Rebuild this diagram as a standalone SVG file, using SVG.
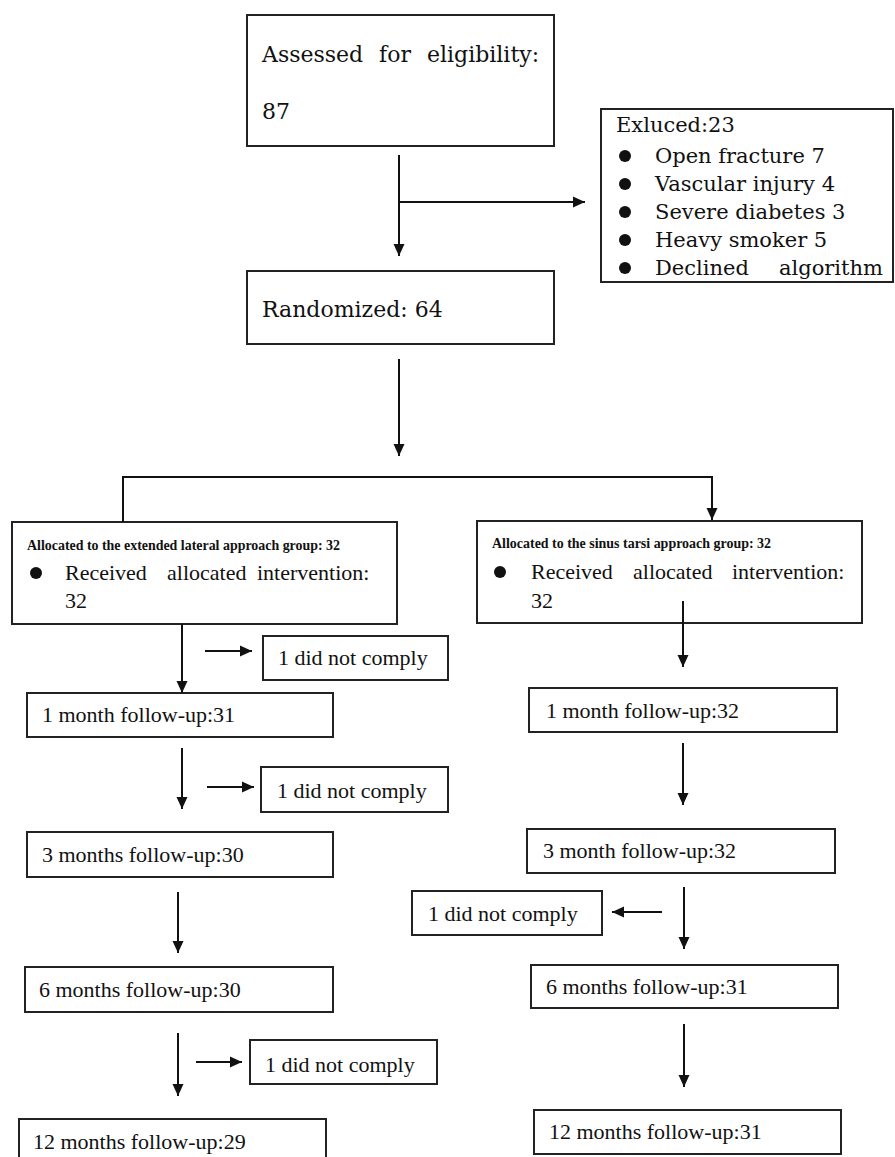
<svg xmlns="http://www.w3.org/2000/svg" width="895" height="1157" viewBox="0 0 895 1157">
<style>
rect.box{fill:#fff;stroke:#222;stroke-width:2}
.cam{font-family:"DejaVu Serif",serif;fill:#111}
.tnr{font-family:"Liberation Serif","Times New Roman",serif;fill:#111;font-size:22px}
.sm{font-family:"Liberation Serif","Times New Roman",serif;fill:#111;font-size:14px;font-weight:bold}
#connectors line,#connectors polyline{stroke:#111;stroke-width:2;fill:none}
</style>
<defs>
<marker id="ah" viewBox="0 0 12 12" refX="12" refY="6" markerWidth="12" markerHeight="12" orient="auto" markerUnits="userSpaceOnUse">
<path d="M0,0.5 L12,6 L0,11.5 z" fill="#111"/>
</marker>
</defs>
<rect width="895" height="1157" fill="#fff"/>

<g id="assessed">
<rect class="box" x="247" y="15" width="307" height="131"/>
<text class="cam" font-size="22" y="62"><tspan x="262">Assessed</tspan><tspan x="379">for</tspan><tspan x="427">eligibility:</tspan></text>
<text class="cam" font-size="22" x="262" y="119">87</text>
</g>

<g id="excluded">
<rect class="box" x="601" y="109" width="292" height="173"/>
<text class="cam" font-size="21" x="616" y="132">Exluced:23</text>
<g fill="#111">
<circle cx="625" cy="156" r="6"/>
<circle cx="625" cy="184" r="6"/>
<circle cx="625" cy="212" r="6"/>
<circle cx="625" cy="240" r="6"/>
<circle cx="625" cy="268" r="6"/>
</g>
<text class="cam" font-size="21" x="655" y="163">Open fracture 7</text>
<text class="cam" font-size="21" x="655" y="191">Vascular injury 4</text>
<text class="cam" font-size="21" x="655" y="219">Severe diabetes 3</text>
<text class="cam" font-size="21" x="655" y="247">Heavy smoker 5</text>
<text class="cam" font-size="21" y="275"><tspan x="655">Declined</tspan><tspan x="779">algorithm</tspan></text>
</g>

<g id="randomized">
<rect class="box" x="247" y="271" width="307" height="73"/>
<text class="cam" font-size="22" x="262" y="317">Randomized: 64</text>
</g>

<g id="alloc-left">
<rect class="box" x="12" y="522" width="385" height="102"/>
<text class="sm" x="27" y="550" textLength="313" lengthAdjust="spacingAndGlyphs">Allocated to the extended lateral approach group: 32</text>
<circle cx="36" cy="573" r="6" fill="#111"/>
<text class="tnr" y="580"><tspan x="65">Received</tspan><tspan x="167">allocated</tspan><tspan x="257">intervention:</tspan></text>
<text class="tnr" x="65" y="608">32</text>
</g>

<g id="alloc-right">
<rect class="box" x="477" y="521" width="385" height="102"/>
<text class="sm" x="492" y="548" textLength="279" lengthAdjust="spacingAndGlyphs">Allocated to the sinus tarsi approach group: 32</text>
<circle cx="500" cy="572" r="6" fill="#111"/>
<text class="tnr" y="579"><tspan x="531">Received</tspan><tspan x="633">allocated</tspan><tspan x="732">intervention:</tspan></text>
<text class="tnr" x="531" y="608">32</text>
</g>

<g id="left-nc1">
<rect class="box" x="263" y="636" width="185" height="44"/>
<text class="tnr" x="278" y="665">1 did not comply</text>
</g>
<g id="left-1m">
<rect class="box" x="27" y="693" width="306" height="44"/>
<text class="tnr" x="42" y="722">1 month follow-up:31</text>
</g>
<g id="left-nc2">
<rect class="box" x="261" y="767" width="187" height="45"/>
<text class="tnr" x="277" y="798">1 did not comply</text>
</g>
<g id="left-3m">
<rect class="box" x="27" y="832" width="306" height="45"/>
<text class="tnr" x="42" y="862">3 months follow-up:30</text>
</g>
<g id="left-6m">
<rect class="box" x="25" y="967" width="308" height="45"/>
<text class="tnr" x="39" y="997">6 months follow-up:30</text>
</g>
<g id="left-nc3">
<rect class="box" x="250" y="1040" width="187" height="44"/>
<text class="tnr" x="265" y="1072">1 did not comply</text>
</g>
<g id="left-12m">
<rect class="box" x="19" y="1119" width="307" height="45"/>
<text class="tnr" x="33" y="1149">12 months follow-up:29</text>
</g>

<g id="right-1m">
<rect class="box" x="529" y="688" width="308" height="44"/>
<text class="tnr" x="546" y="718">1 month follow-up:32</text>
</g>
<g id="right-3m">
<rect class="box" x="527" y="829" width="308" height="44"/>
<text class="tnr" x="543" y="858">3 month follow-up:32</text>
</g>
<g id="right-nc">
<rect class="box" x="412" y="891" width="190" height="44"/>
<text class="tnr" x="428" y="921">1 did not comply</text>
</g>
<g id="right-6m">
<rect class="box" x="531" y="965" width="307" height="43"/>
<text class="tnr" x="546" y="994">6 months follow-up:31</text>
</g>
<g id="right-12m">
<rect class="box" x="534" y="1110" width="307" height="44"/>
<text class="tnr" x="549" y="1139">12 months follow-up:31</text>
</g>

<g id="connectors">
<line x1="399" y1="155" x2="399" y2="256" marker-end="url(#ah)"/>
<line x1="399" y1="202" x2="585" y2="202" marker-end="url(#ah)"/>
<line x1="399" y1="359" x2="399" y2="456" marker-end="url(#ah)"/>
<polyline points="123,522 123,477 712,477 712,520" marker-end="url(#ah)"/>
<line x1="182" y1="624" x2="182" y2="693" marker-end="url(#ah)"/>
<line x1="205" y1="651" x2="252" y2="651" marker-end="url(#ah)"/>
<line x1="182" y1="748" x2="182" y2="809" marker-end="url(#ah)"/>
<line x1="207" y1="787" x2="254" y2="787" marker-end="url(#ah)"/>
<line x1="178" y1="892" x2="178" y2="953" marker-end="url(#ah)"/>
<line x1="178" y1="1033" x2="178" y2="1096" marker-end="url(#ah)"/>
<line x1="196" y1="1062" x2="242" y2="1062" marker-end="url(#ah)"/>
<line x1="683" y1="601" x2="683" y2="667" marker-end="url(#ah)"/>
<line x1="683" y1="743" x2="683" y2="805" marker-end="url(#ah)"/>
<line x1="684" y1="887" x2="684" y2="949" marker-end="url(#ah)"/>
<line x1="662" y1="912" x2="612" y2="912" marker-end="url(#ah)"/>
<line x1="684" y1="1024" x2="684" y2="1087" marker-end="url(#ah)"/>
</g>
</svg>
